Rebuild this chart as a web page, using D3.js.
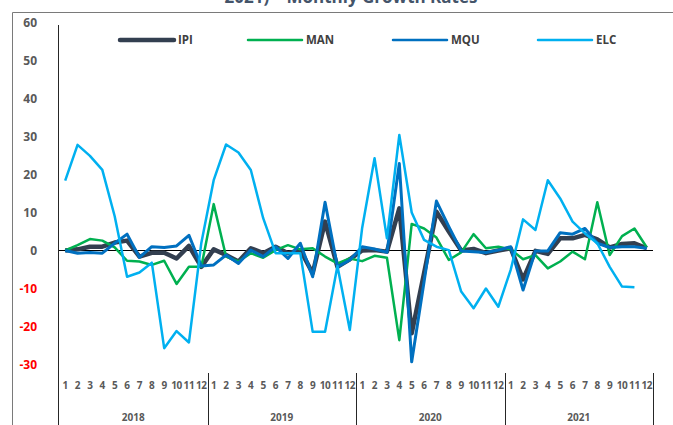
<!DOCTYPE html>
<html><head><meta charset="utf-8">
<script src="https://cdn.jsdelivr.net/npm/d3@7"></script>
<style>body{margin:0;background:#fff;} svg{display:block;font-family:"Open Sans",sans-serif;}</style>
</head><body>
<svg id="c" width="673" height="425"></svg>
<script>
const years = ["2018","2019","2020","2021"];
const months = ["1","2","3","4","5","6","7","8","9","10","11","12"];
const yTicks = [60,50,40,30,20,10,0,-10,-20,-30];
const seriesNames = ["IPI","MAN","MQU","ELC"];
const IPI = [0,0.3,1.0,1.0,2.1,2.6,-1.6,-0.6,-0.6,-2.1,1.2,-4.3,
 0.3,-1.2,-2.9,0.6,-0.7,1.0,-0.7,0.1,-6.0,7.6,-4.3,-2.3,
 0,0.1,-0.3,11.1,-21.8,-6,10.2,5.0,0,0.4,-0.7,0,
 0.6,-7.6,-0.1,-0.9,3.2,3.2,4.1,2.9,0.8,1.7,1.9,0.6];
const MAN = [0,1.4,3.0,2.6,0.8,-2.7,-2.9,-3.8,-2.7,-8.8,-4.3,-4.3,
 12.2,-1.6,-2.9,-0.7,-1.9,0.1,1.4,0.3,0.6,-1.6,-3.4,-2.1,
 -2.8,-1.4,-1.9,-23.6,7.0,5.8,3.4,-2.5,-0.5,4.3,0.6,1.0,
 0.3,-2.3,-1.2,-4.7,-2.9,-0.3,-2.3,12.7,-1.2,3.8,5.8,0.8];
const MQU = [0,-0.7,-0.5,-0.7,1.9,4.3,-1.8,1.0,0.8,1.2,4.0,-4.1,
 -3.8,-1.2,-3.4,0.1,-1.6,1.0,-2.1,1.9,-6.9,12.7,-4.3,-2.5,
 1.0,0.4,-0.5,22.9,-29.3,-8.2,13.0,6.3,-0.1,-0.3,-0.5,0.1,
 1.0,-10.4,-0.1,-0.1,4.7,4.3,5.8,1.9,0.8,1.0,1.0,0.6];
const ELC = [18.4,27.8,24.9,21.2,9,-6.9,-5.8,-3.2,-25.7,-21.2,-24.2,2,
 18.5,27.9,25.8,21.2,8.5,-0.7,-0.7,-0.7,-21.4,-21.4,-4.1,-20.9,
 6,24.3,3.2,30.4,10.0,2.8,1.0,0.1,-10.8,-15.2,-10,-14.8,
 -5.1,8.2,5.4,18.5,13.7,7.6,4.5,1.9,-4.3,-9.5,-9.7,null];

const colors = {IPI:"#333f50", MAN:"#00b050", MQU:"#0070c0", ELC:"#00b0f0"};
const widths = {IPI:4.5, MAN:2.5, MQU:3, ELC:2.5};
const dataMap = {IPI, MAN, MQU, ELC};

const svg = d3.select("#c");
const idx = d3.range(years.length*months.length);
const x = d3.scaleBand().domain(idx).range([59,653]).padding(0);
const y = d3.scaleLinear().domain([-30,60]).range([364.5,22.5]);
const cx = i => x(i) + x.bandwidth()/2;

// title (cut off at top)
svg.append("text").attr("x",351).attr("y",3).attr("text-anchor","middle")
  .attr("font-size",17).attr("font-weight","bold").attr("fill","#44546a")
  .text("2021) – Monthly Growth Rates");

// outer frame
svg.append("line").attr("x1",12.5).attr("x2",673).attr("y1",12.5).attr("y2",12.5).attr("stroke","#7a7a7a");
svg.append("line").attr("x1",12.5).attr("x2",12.5).attr("y1",12.5).attr("y2",425).attr("stroke","#7a7a7a");

// y labels
svg.append("g").selectAll("text").data(yTicks).join("text")
  .attr("x",37).attr("y",d=>y(d)+4).attr("text-anchor","end")
  .attr("font-size",12).attr("font-weight","bold")
  .attr("fill",d=>d<0?"#ff0000":"#595959").text(d=>d);

// y axis line
svg.append("line").attr("x1",58.5).attr("x2",58.5).attr("y1",25).attr("y2",425).attr("stroke","#262626");

// zero line
svg.append("line").attr("x1",59).attr("x2",653).attr("y1",y(0)).attr("y2",y(0)).attr("stroke","#000").attr("stroke-width",1);

// series
const line = d3.line().defined(d=>d!=null).x((d,i)=>cx(i)).y(d=>y(d));
seriesNames.forEach(s=>{
  svg.append("path").datum(dataMap[s]).attr("d",line)
    .attr("fill","none").attr("stroke",colors[s]).attr("stroke-width",widths[s])
    .attr("stroke-linejoin","round");
});

// month labels
svg.append("g").selectAll("text").data(idx).join("text")
  .attr("x",i=>cx(i)).attr("y",389).attr("text-anchor","middle")
  .attr("font-size",10).attr("font-weight","bold").attr("fill","#595959")
  .attr("letter-spacing",-0.3)
  .text(i=>months[i%12]);

// year separators
svg.append("g").selectAll("line").data(years).join("line")
  .attr("x1",(d,k)=>Math.round(x((k+1)*12-1)+x.bandwidth())+0.5)
  .attr("x2",(d,k)=>Math.round(x((k+1)*12-1)+x.bandwidth())+0.5)
  .attr("y1",373).attr("y2",425).attr("stroke","#262626");

// year labels
svg.append("g").selectAll("text").data(years).join("text")
  .attr("x",(d,k)=>(x(k*12)+x(k*12+11)+x.bandwidth())/2).attr("y",421)
  .attr("text-anchor","middle").attr("font-size",10).attr("font-weight","bold")
  .attr("fill","#595959").text(d=>d);

// legend
const legX = [120,248,393,538];
const lg = svg.append("g");
seriesNames.forEach((s,k)=>{
  lg.append("line").attr("x1",legX[k]).attr("x2",legX[k]+54).attr("y1",40).attr("y2",40)
    .attr("stroke",colors[s]).attr("stroke-width",s==="IPI"?4.5:2.5).attr("stroke-linecap","round");
  lg.append("text").attr("x",legX[k]+58).attr("y",44).attr("font-size",11.5)
    .attr("font-weight","bold").attr("fill","#404040").text(s);
});
</script>
</body></html>
